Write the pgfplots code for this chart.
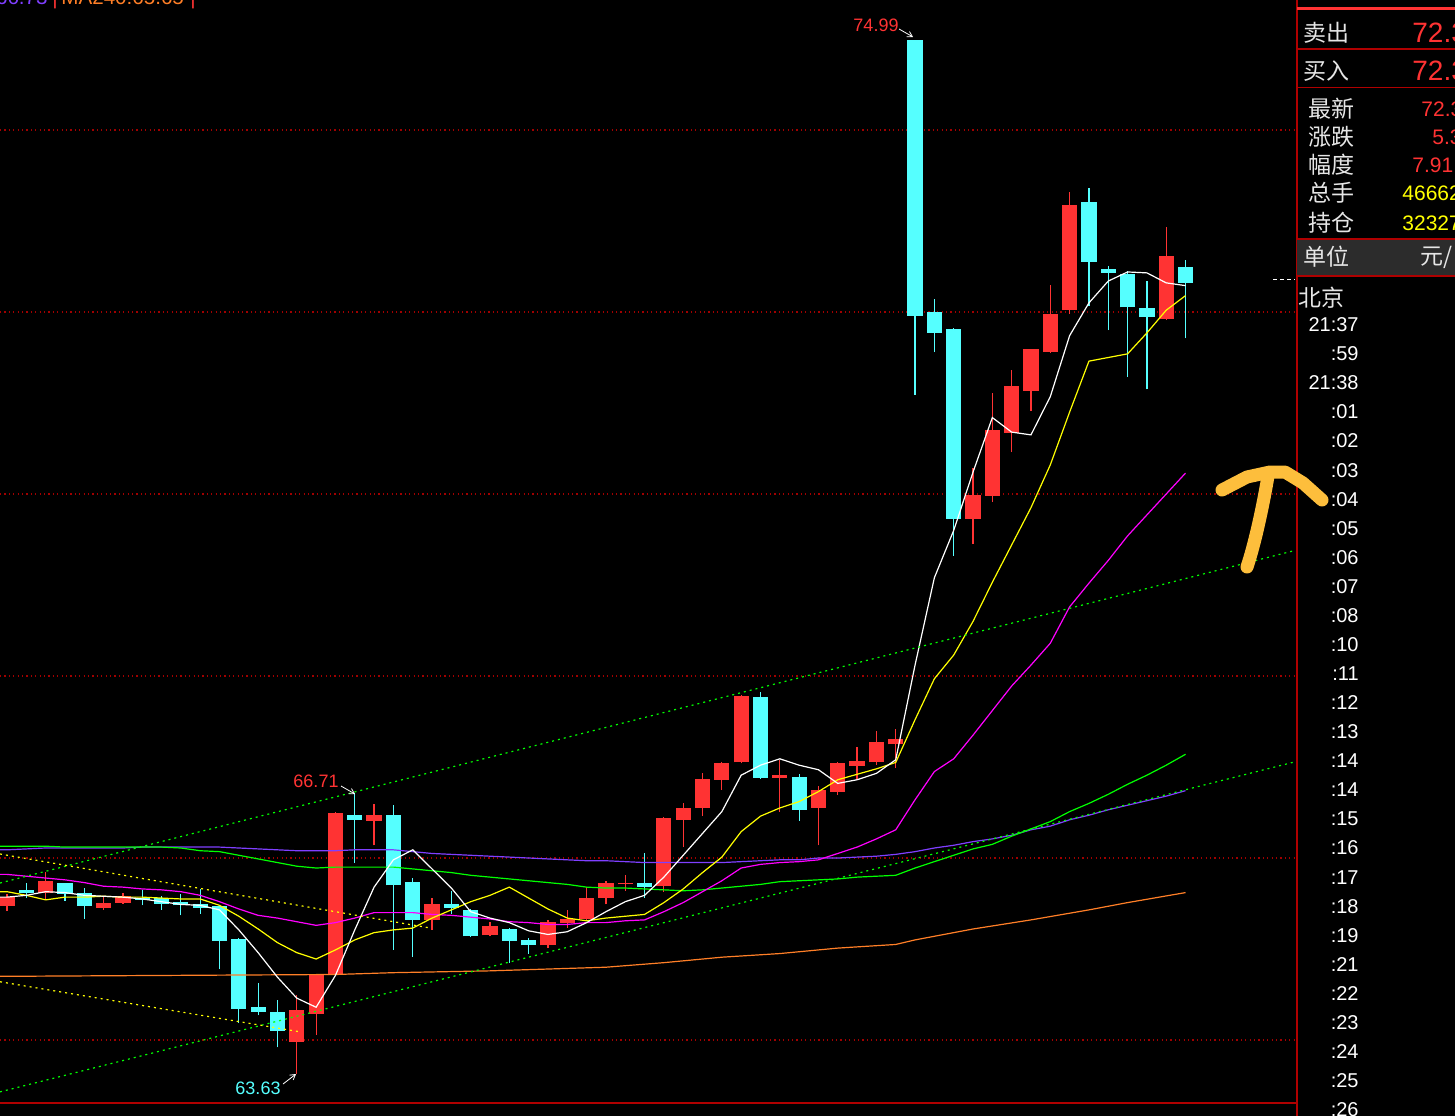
\documentclass[border=0pt]{standalone}
\usepackage{pgfplots}
\pgfplotsset{compat=1.18}
\usepackage{pgfplotstable}
\usepackage{fontspec}
\setmainfont{Liberation Sans}
\newfontfamily\cjk{Noto Sans CJK SC}
\usetikzlibrary{arrows.meta}

\definecolor{cred}{HTML}{FF3333}
\definecolor{ccyan}{HTML}{55FFFF}
\definecolor{mamag}{HTML}{FF00FF}
\definecolor{magrn}{HTML}{00FF00}
\definecolor{mapur}{HTML}{7F3FFF}
\definecolor{maora}{HTML}{FF7F27}
\definecolor{mayel}{HTML}{FFFF00}
\definecolor{gridred}{HTML}{A00000}
\definecolor{panelred}{HTML}{B00000}
\definecolor{hand}{HTML}{FDBE3C}
\definecolor{txt}{HTML}{E6E6E6}
\definecolor{boxgray}{HTML}{2C2C2C}

\pgfplotstableread{
i o h l c
0 65.47 65.60 65.42 65.57
2 65.62 65.85 65.55 65.75
5 65.45 65.58 65.43 65.51
6 65.51 65.62 65.50 65.58
15 63.98 64.49 63.63 64.33
16 64.29 64.72 64.06 64.72
17 64.71 66.51 64.70 66.49
19 66.41 66.59 66.14 66.47
22 65.32 65.56 65.21 65.49
25 65.15 65.30 65.14 65.25
28 65.04 65.32 65.01 65.30
29 65.29 65.43 65.23 65.33
30 65.33 65.68 65.32 65.56
31 65.56 65.75 65.49 65.72
32 65.71 65.81 65.64 65.73
34 65.69 66.45 65.63 66.44
35 66.42 66.60 66.12 66.55
36 66.55 66.93 66.46 66.87
37 66.86 67.05 66.75 67.04
38 67.05 67.79 67.04 67.78
40 66.88 67.08 66.51 66.91
42 66.55 66.79 66.14 66.75
43 66.73 67.05 66.69 67.04
44 67.01 67.22 66.86 67.07
45 67.05 67.40 67.02 67.27
46 67.25 67.42 66.99 67.31
50 69.73 70.29 69.45 69.99
51 69.98 71.11 69.91 70.70
52 70.67 71.36 70.46 71.19
53 71.13 71.59 70.91 71.59
54 71.56 72.30 71.55 71.98
55 72.02 73.32 71.98 73.18
60 71.92 72.93 71.91 72.61
}\redtab

\pgfplotstableread{
i o h l c
1 65.65 65.72 65.56 65.62
3 65.72 65.73 65.53 65.61
4 65.62 65.67 65.33 65.47
7 65.56 65.65 65.48 65.54
8 65.56 65.58 65.43 65.50
9 65.52 65.61 65.37 65.48
10 65.49 65.66 65.39 65.45
11 65.47 65.48 64.78 65.09
12 65.11 65.12 64.19 64.34
13 64.36 64.63 64.27 64.31
14 64.31 64.44 63.92 64.10
18 66.47 66.71 65.95 66.42
20 66.47 66.58 64.99 65.70
21 65.74 65.78 64.91 65.32
23 65.50 65.64 65.39 65.45
24 65.43 65.44 65.13 65.14
26 65.22 65.23 64.85 65.09
27 65.10 65.12 64.95 65.04
33 65.72 66.05 65.56 65.68
39 67.77 67.82 66.87 66.88
41 66.89 66.92 66.41 66.53
47 74.99 74.99 71.09 71.96
48 72.00 72.14 71.56 71.77
49 71.81 71.82 69.32 69.73
56 73.21 73.36 72.07 72.55
57 72.47 72.51 71.80 72.43
58 72.42 72.45 71.29 72.05
59 72.04 72.34 71.15 71.94
61 72.50 72.57 71.71 72.32
}\cyantab

\pgfplotstableread{
i w y m g p
-0.37 65.57 65.63 65.82 66.13 66.09
0 65.57 65.63 65.82 66.13 66.09
1 65.59 65.59 65.80 66.13 66.10
2 65.63 65.54 65.78 66.13 66.11
3 65.62 65.57 65.76 66.12 66.11
4 65.59 65.57 65.73 66.12 66.11
5 65.58 65.58 65.69 66.12 66.11
6 65.57 65.57 65.68 66.12 66.11
7 65.55 65.57 65.66 66.12 66.12
8 65.52 65.56 65.65 66.12 66.12
9 65.49 65.55 65.63 66.11 66.12
10 65.48 65.55 65.59 66.08 66.12
11 65.43 65.48 65.52 66.07 66.12
12 65.21 65.36 65.44 66.03 66.11
13 64.96 65.22 65.37 65.99 66.10
14 64.69 65.07 65.34 65.95 66.09
15 64.46 64.96 65.30 65.91 66.08
16 64.36 64.89 65.26 65.89 66.08
17 64.71 64.99 65.29 65.90 66.08
18 65.21 65.10 65.34 65.90 66.09
19 65.68 65.18 65.40 65.90 66.09
20 65.98 65.21 65.40 65.90 66.09
21 66.09 65.23 65.40 65.88 66.07
22 65.88 65.34 65.38 65.86 66.05
23 65.67 65.43 65.37 65.84 66.04
24 65.41 65.52 65.35 65.81 66.03
25 65.34 65.59 65.33 65.79 66.02
26 65.29 65.68 65.30 65.77 66.01
27 65.20 65.56 65.29 65.75 66.00
28 65.16 65.44 65.27 65.73 65.99
29 65.19 65.34 65.27 65.71 65.98
30 65.29 65.31 65.29 65.68 65.97
31 65.41 65.34 65.29 65.67 65.97
32 65.52 65.36 65.31 65.67 65.96
33 65.59 65.38 65.32 65.66 65.95
34 65.79 65.51 65.41 65.65 65.95
35 66.03 65.66 65.51 65.64 65.95
36 66.27 65.84 65.63 65.65 65.95
37 66.51 66.01 65.75 65.67 65.95
38 66.91 66.29 65.89 65.69 65.96
39 67.02 66.46 65.93 65.71 65.97
40 67.09 66.55 65.95 65.74 65.98
41 67.02 66.62 65.96 65.75 65.98
42 66.97 66.73 65.98 65.76 66.00
43 66.82 66.86 66.05 65.77 66.00
44 66.86 66.92 66.12 65.79 66.01
45 66.93 66.98 66.21 65.80 66.02
46 67.08 67.05 66.31 65.81 66.04
47 68.12 67.52 66.64 65.89 66.07
48 69.08 67.97 66.95 65.96 66.11
49 69.60 68.23 67.09 66.03 66.14
50 70.24 68.60 67.35 66.10 66.18
51 70.84 69.03 67.62 66.15 66.21
52 70.68 69.44 67.89 66.24 66.25
53 70.65 69.85 68.12 66.32 66.31
54 71.07 70.32 68.36 66.40 66.35
55 71.74 70.90 68.76 66.51 66.42
56 72.10 71.46 69.02 66.60 66.47
57 72.34 71.50 69.27 66.70 66.53
58 72.44 71.54 69.54 66.81 66.58
59 72.43 71.77 69.77 66.91 66.63
60 72.32 72.02 70.00 67.02 66.68
61 72.29 72.18 70.23 67.14 66.74
}\matab

\pgfplotstableread{
i v
-0.37 64.70
0 64.70
17 64.72
20 64.74
25 64.76
28 64.78
31 64.80
34 64.85
37 64.91
40 64.95
43 65.01
46 65.05
47 65.10
50 65.22
53 65.32
56 65.43
58 65.51
61 65.62
}\oratab

\begin{document}
\begin{tikzpicture}
\path[use as bounding box] (0,-6.5pt) rectangle (727.5pt,551.5pt);
\clip (0,-6.5pt) rectangle (727.5pt,551.5pt);
\fill[black] (0,-6.5pt) rectangle (727.5pt,551.5pt);
\begin{axis}[at={(0,0)}, anchor=south west, scale only axis,
  width=647.5pt, height=551.5pt,
  xmin=-0.3623, xmax=66.667, ymin=63.3077, ymax=75.4286, hide axis]
% grid lines
\addplot[gridred, line width=0.6pt, dash pattern=on 0.6pt off 1.6pt, forget plot] coordinates {(-0.3623,74) (66.667,74)};
\addplot[gridred, line width=0.6pt, dash pattern=on 0.6pt off 1.6pt, forget plot] coordinates {(-0.3623,72) (66.667,72)};
\addplot[gridred, line width=0.6pt, dash pattern=on 0.6pt off 1.6pt, forget plot] coordinates {(-0.3623,70) (66.667,70)};
\addplot[gridred, line width=0.6pt, dash pattern=on 0.6pt off 1.6pt, forget plot] coordinates {(-0.3623,68) (66.667,68)};
\addplot[gridred, line width=0.6pt, dash pattern=on 0.6pt off 1.6pt, forget plot] coordinates {(-0.3623,66) (66.667,66)};
\addplot[gridred, line width=0.6pt, dash pattern=on 0.6pt off 1.6pt, forget plot] coordinates {(-0.3623,64) (66.667,64)};
% wicks
\addplot[draw=none, forget plot, error bars/.cd, y dir=plus, y explicit, error mark=none,
  error bar style={solid, draw=cred, line width=0.6pt}]
  table[x=i, y=l, y error plus expr={\thisrow{h}-\thisrow{l}}] {\redtab};
\addplot[draw=none, forget plot, error bars/.cd, y dir=plus, y explicit, error mark=none,
  error bar style={solid, draw=ccyan, line width=0.6pt}]
  table[x=i, y=l, y error plus expr={\thisrow{h}-\thisrow{l}}] {\cyantab};
% bodies
\addplot[draw=none, forget plot, error bars/.cd, y dir=plus, y explicit, error mark=none,
  error bar style={solid, draw=cred, line width=7.6pt}]
  table[x=i, y=o, y error plus expr={\thisrow{c}-\thisrow{o}}] {\redtab};
\addplot[draw=none, forget plot, error bars/.cd, y dir=plus, y explicit, error mark=none,
  error bar style={solid, draw=ccyan, line width=7.6pt}]
  table[x=i, y=c, y error plus expr={\thisrow{o}-\thisrow{c}}] {\cyantab};
% moving averages
\addplot[maora, line width=0.6pt] table[x=i, y=v] {\oratab};
\addplot[mapur, line width=0.6pt] table[x=i, y=p] {\matab};
\addplot[magrn, line width=0.6pt] table[x=i, y=g] {\matab};
\addplot[mamag, line width=0.6pt] table[x=i, y=m] {\matab};
\addplot[mayel, line width=0.6pt] table[x=i, y=y] {\matab};
\addplot[white, line width=0.6pt] table[x=i, y=w] {\matab};
% trend lines
\addplot[magrn, line width=0.6pt, dash pattern=on 1pt off 2pt] coordinates {(-0.3623,65.725) (66.667,69.38)};
\addplot[magrn, line width=0.6pt, dash pattern=on 1pt off 2pt] coordinates {(-0.3623,63.43) (66.667,67.057)};
\addplot[mayel, line width=0.6pt, dash pattern=on 1pt off 2pt] coordinates {(-0.3623,66.044) (21.9,65.231)};
\addplot[mayel, line width=0.6pt, dash pattern=on 1pt off 2pt] coordinates {(-0.3623,64.64) (15.17,64.09)};
\end{axis}

\begin{scope}[x=0.5pt,y=-0.5pt,shift={(0,551.5pt)}]
% top-left legend text
\node[anchor=base east, inner sep=0, text=mapur, font=\fontsize{10.3}{11}\selectfont] at (48,5) {66.73};
\node[anchor=base, inner sep=0, text=cred, font=\fontsize{10.3}{11}\selectfont] at (55,5) {|};
\node[anchor=base west, inner sep=0, text=maora, font=\fontsize{10.3}{11}\selectfont] at (61,5) {MA240:65.65};
\node[anchor=base, inner sep=0, text=cred, font=\fontsize{10.3}{11}\selectfont] at (193,5) {|};
% annotations
\node[inner sep=0, text=cred, font=\fontsize{9}{10}\selectfont] at (876,25) {74.99};
\draw[white, line width=0.4pt, -{Straight Barb[length=2.5pt,width=3pt]}] (899,29) -- (913,37);
\node[inner sep=0, text=cred, font=\fontsize{9}{10}\selectfont] at (316,781) {66.71};
\draw[white, line width=0.4pt, -{Straight Barb[length=2.5pt,width=3pt]}] (341,786) -- (355,794);
\node[inner sep=0, text=ccyan, font=\fontsize{9}{10}\selectfont] at (258,1088) {63.63};
\draw[white, line width=0.4pt, -{Straight Barb[length=2.5pt,width=3pt]}] (283,1084) -- (296,1074);
% last price marker
\draw[white, line width=0.5pt, dash pattern=on 2pt off 1.5pt] (1273,279) -- (1295,279);
% frame lines
\draw[panelred, line width=1pt] (0,1103) -- (1297,1103);
\draw[panelred, line width=0.7pt] (1297,0) -- (1297,1116);
% right panel
\fill[cred] (1297,7) rectangle (1455,10);
\draw[panelred, line width=0.6pt] (1297,49) -- (1455,49);
\draw[panelred, line width=0.6pt] (1297,87.5) -- (1455,87.5);
\fill[boxgray] (1297,239) rectangle (1455,276);
\draw[panelred, line width=0.6pt] (1297,239) -- (1455,239);
\draw[panelred, line width=0.6pt] (1297,276) -- (1455,276);
\node[anchor=west, inner sep=0, text=txt, font=\cjk\fontsize{11.5}{12}\selectfont] at (1303,33) {卖出};
\node[anchor=west, inner sep=0, text=cred, font=\fontsize{14}{15}\selectfont] at (1412,33) {72.3};
\node[anchor=west, inner sep=0, text=txt, font=\cjk\fontsize{11.5}{12}\selectfont] at (1303,71) {买入};
\node[anchor=west, inner sep=0, text=cred, font=\fontsize{14}{15}\selectfont] at (1412,71) {72.3};
\node[anchor=west, inner sep=0, text=txt, font=\cjk\fontsize{11.5}{12}\selectfont] at (1308,109) {最新};
\node[anchor=west, inner sep=0, text=cred, font=\fontsize{10.5}{11}\selectfont] at (1421,109) {72.3};
\node[anchor=west, inner sep=0, text=txt, font=\cjk\fontsize{11.5}{12}\selectfont] at (1308,137) {涨跌};
\node[anchor=west, inner sep=0, text=cred, font=\fontsize{10.5}{11}\selectfont] at (1432,137) {5.3};
\node[anchor=west, inner sep=0, text=txt, font=\cjk\fontsize{11.5}{12}\selectfont] at (1308,165) {幅度};
\node[anchor=west, inner sep=0, text=cred, font=\fontsize{10.5}{11}\selectfont] at (1412,165) {7.91};
\node[anchor=west, inner sep=0, text=txt, font=\cjk\fontsize{11.5}{12}\selectfont] at (1308,193) {总手};
\node[anchor=west, inner sep=0, text=mayel, font=\fontsize{10.5}{11}\selectfont] at (1402,193) {46662};
\node[anchor=west, inner sep=0, text=txt, font=\cjk\fontsize{11.5}{12}\selectfont] at (1308,223) {持仓};
\node[anchor=west, inner sep=0, text=mayel, font=\fontsize{10.5}{11}\selectfont] at (1402,223) {32327};
\node[anchor=west, inner sep=0, text=txt, font=\cjk\fontsize{11.5}{12}\selectfont] at (1303,257) {单位};
\node[anchor=west, inner sep=0, text=txt, font=\cjk\fontsize{11.5}{12}\selectfont] at (1420,257) {元/};
\node[anchor=west, inner sep=0, text=txt, font=\cjk\fontsize{11.5}{12}\selectfont] at (1298,298) {北京};
\node[anchor=east, inner sep=0, text=white, font=\fontsize{10}{11}\selectfont] at (1359,325) {21:37};
\node[anchor=east, inner sep=0, text=white, font=\fontsize{10}{11}\selectfont] at (1359,354) {:59};
\node[anchor=east, inner sep=0, text=white, font=\fontsize{10}{11}\selectfont] at (1359,383) {21:38};
\foreach \t [count=\k from 0] in {:01,:02,:03,:04,:05,:06,:07,:08,:10,:11,:12,:13,:14,:14,:15,:16,:17,:18,:19,:21,:22,:23,:24,:25,:26}
  \node[anchor=east, inner sep=0, text=white, font=\fontsize{10}{11}\selectfont] at (1359,{412+29.07*\k}) {\t};
% hand-drawn arrow
\draw[hand, line width=6.5pt, line cap=round, line join=round] (1247,567) .. controls (1256,540) and (1264,500) .. (1268,476);
\draw[hand, line width=6.5pt, line cap=round, line join=round] (1222,490) -- (1247,477) -- (1270,472) -- (1285,472) -- (1303,483) -- (1322,500);
\end{scope}
\end{tikzpicture}
\end{document}
